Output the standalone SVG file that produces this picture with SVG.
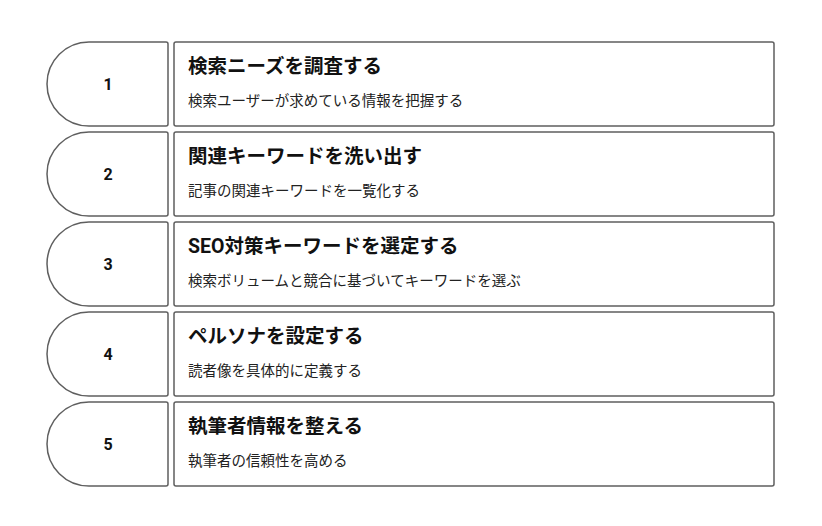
<svg xmlns="http://www.w3.org/2000/svg" width="822" height="526" viewBox="0 0 822 526">
<style>
.shape{fill:#fff;stroke:#5f5f5f;stroke-width:1.5}
.num{font-family:Roboto,"Noto Sans CJK JP",sans-serif;font-weight:bold;font-size:16px;fill:#111;text-anchor:middle;dominant-baseline:central}
.title{font-family:Roboto,"Noto Sans CJK JP",sans-serif;font-weight:bold;font-size:19.5px;fill:#111}
.sub{font-family:Roboto,"Noto Sans CJK JP",sans-serif;font-size:14.5px;fill:#222}
</style>
<defs>
<path id="tab" d="M89 0 H166 Q168 0 168 2 V82 Q168 84 166 84 H89 A42 42 0 0 1 89 0 Z"/>
</defs>
<rect width="822" height="526" fill="#fff"/>
<g id="step1" transform="translate(0,42)">
<use href="#tab" class="shape"/>
<rect class="shape" x="174" y="0" width="600" height="84" rx="2"/>
<text class="num" x="108" y="42">1</text>
<text class="title" x="188" y="31">検索ニーズを調査する</text>
<text class="sub" x="188" y="64">検索ユーザーが求めている情報を把握する</text>
</g>
<g id="step2" transform="translate(0,132)">
<use href="#tab" class="shape"/>
<rect class="shape" x="174" y="0" width="600" height="84" rx="2"/>
<text class="num" x="108" y="42">2</text>
<text class="title" x="188" y="31">関連キーワードを洗い出す</text>
<text class="sub" x="188" y="64">記事の関連キーワードを一覧化する</text>
</g>
<g id="step3" transform="translate(0,222)">
<use href="#tab" class="shape"/>
<rect class="shape" x="174" y="0" width="600" height="84" rx="2"/>
<text class="num" x="108" y="42">3</text>
<text class="title" x="188" y="31">SEO対策キーワードを選定する</text>
<text class="sub" x="188" y="64">検索ボリュームと競合に基づいてキーワードを選ぶ</text>
</g>
<g id="step4" transform="translate(0,312)">
<use href="#tab" class="shape"/>
<rect class="shape" x="174" y="0" width="600" height="84" rx="2"/>
<text class="num" x="108" y="42">4</text>
<text class="title" x="188" y="31">ペルソナを設定する</text>
<text class="sub" x="188" y="64">読者像を具体的に定義する</text>
</g>
<g id="step5" transform="translate(0,402)">
<use href="#tab" class="shape"/>
<rect class="shape" x="174" y="0" width="600" height="84" rx="2"/>
<text class="num" x="108" y="42">5</text>
<text class="title" x="188" y="31">執筆者情報を整える</text>
<text class="sub" x="188" y="64">執筆者の信頼性を高める</text>
</g>
<g id="connectors"></g>
</svg>
